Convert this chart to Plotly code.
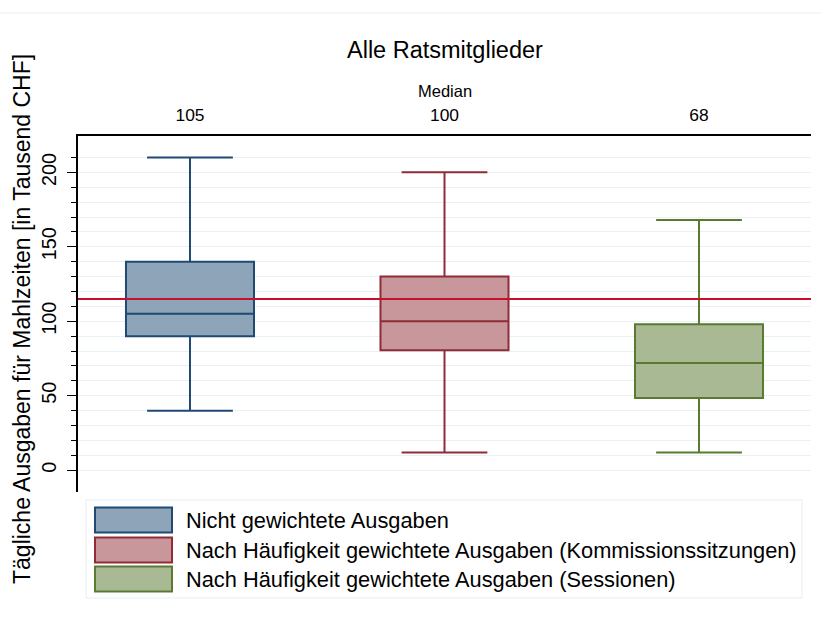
import plotly.graph_objects as go

# ---- data ----
series_names = [
    "Nicht gewichtete Ausgaben",
    "Nach Häufigkeit gewichtete Ausgaben (Kommissionssitzungen)",
    "Nach Häufigkeit gewichtete Ausgaben (Sessionen)",
]
positions = [0, 1, 2]
lower_whisker = [40, 12, 12]
q1_values = [90, 80.5, 48.5]
median_values = [105, 100, 72]
q3_values = [140, 130, 98]
upper_whisker = [210, 200, 168]
median_labels = ["105", "100", "68"]
reference_value = 115
y_ticks = [0, 50, 100, 150, 200]
y_minor_ticks = list(range(0, 220, 10))

line_colors = ["#1f4a74", "#8f2c38", "#5a7a30"]
fill_colors = ["#8da4b9", "#c8979b", "#a9b994"]

FONT = "Arial, Liberation Sans, Helvetica, sans-serif"
W, H = 821, 619
L, R, T, B = 78, 10, 136, 127
pw, ph = W - L - R, H - T - B


def px_x(x):
    return (x - L) / pw


def px_y(y):
    return (H - B - y) / ph


fig = go.Figure()
for i in range(3):
    fig.add_trace(go.Box(
        x=[positions[i]],
        q1=[q1_values[i]], median=[median_values[i]], q3=[q3_values[i]],
        lowerfence=[lower_whisker[i]], upperfence=[upper_whisker[i]],
        name=series_names[i],
        fillcolor=fill_colors[i],
        line=dict(color=line_colors[i], width=2),
        width=0.503, whiskerwidth=0.67,
        boxpoints=False, showlegend=False, hoverinfo="skip",
    ))

annotations = []
annotations.append(dict(text="Alle Ratsmitglieder", xref="paper", yref="paper",
                        x=0.5, y=px_y(50), showarrow=False,
                        font=dict(family=FONT, size=23.5, color="black"),
                        xanchor="center", yanchor="middle"))
annotations.append(dict(text="Median", xref="paper", yref="paper",
                        x=0.5, y=px_y(91), showarrow=False,
                        font=dict(family=FONT, size=16.5, color="black"),
                        xanchor="center", yanchor="middle"))
annotations.append(dict(text="Tägliche Ausgaben für Mahlzeiten [in Tausend CHF]",
                        xref="paper", yref="paper", x=px_x(22), y=px_y(319),
                        textangle=-90, showarrow=False,
                        font=dict(family=FONT, size=23, color="black"),
                        xanchor="center", yanchor="middle"))

shapes = []
shapes.append(dict(type="rect", xref="paper", yref="paper",
                   x0=px_x(86), x1=px_x(802), y0=px_y(500), y1=px_y(598),
                   line=dict(color="#e8eeee", width=1), fillcolor="rgba(0,0,0,0)"))
shapes.append(dict(type="line", xref="paper", yref="paper",
                   x0=px_x(0), x1=px_x(821), y0=px_y(13), y1=px_y(13),
                   line=dict(color="#eeeeee", width=1)))
row_y = [520, 550, 579]
for i in range(3):
    shapes.append(dict(type="rect", xref="paper", yref="paper",
                       x0=px_x(95), x1=px_x(172),
                       y0=px_y(row_y[i] - 12.5), y1=px_y(row_y[i] + 12.5),
                       fillcolor=fill_colors[i],
                       line=dict(color=line_colors[i], width=2)))
    annotations.append(dict(text=series_names[i], xref="paper", yref="paper",
                            x=px_x(184), y=px_y(row_y[i]), showarrow=False,
                            xanchor="left", yanchor="middle",
                            font=dict(family=FONT, size=21.8, color="black")))

shapes.append(dict(type="line", xref="paper", yref="y", x0=0, x1=1,
                   y0=reference_value, y1=reference_value,
                   line=dict(color="#c8102e", width=2), layer="above"))

fig.update_layout(
    width=W, height=H,
    margin=dict(l=L, r=R, t=T, b=B, pad=0),
    paper_bgcolor="white", plot_bgcolor="white",
    font=dict(family=FONT, color="black"),
    annotations=annotations,
    shapes=shapes,
    xaxis=dict(
        side="top", range=[-0.44, 2.44], automargin=False,
        tickmode="array", tickvals=positions, ticktext=median_labels,
        ticks="", showline=True, linecolor="black", linewidth=2,
        showgrid=False, zeroline=False,
        tickfont=dict(family=FONT, size=17.4, color="black"),
        ticklabelstandoff=6,
    ),
    yaxis=dict(
        range=[-14.6, 224.4], automargin=False,
        tickmode="array", tickvals=y_ticks,
        ticks="outside", ticklen=9, tickcolor="black", tickwidth=1,
        tickangle=-90, ticklabelstandoff=3,
        tickfont=dict(family=FONT, size=19.8, color="black"),
        showline=True, linecolor="black", linewidth=1.5,
        showgrid=True, gridcolor="#eaf1f2", gridwidth=1,
        zeroline=False,
        minor=dict(tickmode="array", tickvals=y_minor_ticks, ticks="outside",
                   ticklen=5, tickcolor="black", showgrid=True,
                   gridcolor="#eaf1f2", gridwidth=1),
    ),
)

fig.write_html("out.html", config={"displayModeBar": False},
               post_script="document.body.style.margin='0';document.body.style.padding='0';")
